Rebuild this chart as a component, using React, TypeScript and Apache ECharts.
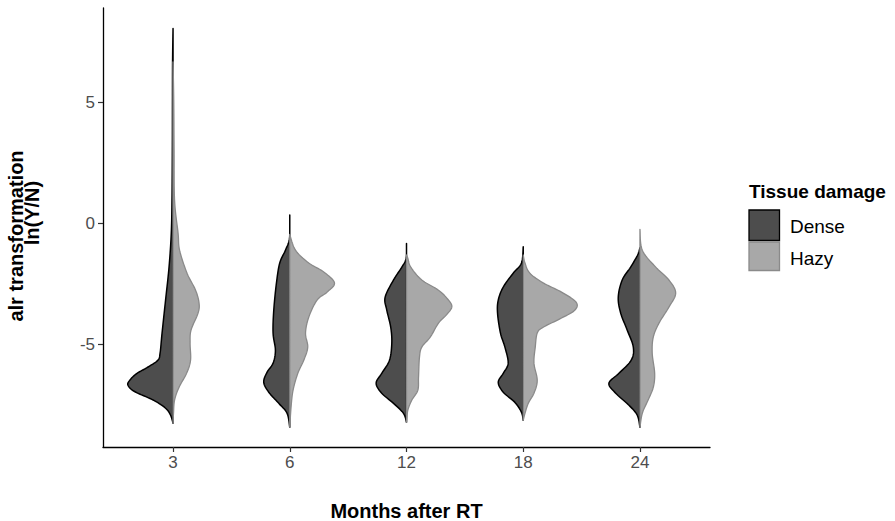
import React, { useEffect, useRef } from "react";
import * as echarts from "echarts";

const months = ["3", "6", "12", "18", "24"];
const yTicks = [-5, 0, 5];
const groups = ["Dense", "Hazy"];

// [y, half-width in category units], top to bottom
const dense3 = [[8.04, 0], [6.67, 0.004], [5.1, 0.005], [3.04, 0.006], [0.97, 0.009], [-0.39, 0.015], [-1.79, 0.034], [-3.16, 0.064], [-4.52, 0.094], [-5.35, 0.111], [-5.64, 0.13], [-5.92, 0.214], [-6.2, 0.314], [-6.47, 0.371], [-6.67, 0.386], [-6.93, 0.33], [-7.29, 0.167], [-7.62, 0.064], [-7.91, 0.021], [-8.24, 0]];
const dense6 = [[0.35, 0], [-0.6, 0.002], [-1.1, 0.037], [-1.63, 0.086], [-2.45, 0.114], [-3.57, 0.137], [-4.52, 0.143], [-5.23, 0.123], [-5.76, 0.143], [-6.14, 0.195], [-6.55, 0.223], [-6.96, 0.18], [-7.42, 0.094], [-7.83, 0.023], [-8.41, 0]];
const dense12 = [[-0.82, 0], [-1.43, 0.003], [-1.8, 0.04], [-2.33, 0.111], [-3.04, 0.183], [-3.57, 0.169], [-4.28, 0.135], [-4.94, 0.126], [-5.64, 0.146], [-6.18, 0.212], [-6.59, 0.26], [-7.0, 0.212], [-7.42, 0.111], [-7.83, 0.026], [-8.2, 0]];
const dense18 = [[-0.96, 0], [-1.63, 0.015], [-2.05, 0.086], [-2.62, 0.171], [-3.16, 0.214], [-3.7, 0.22], [-4.52, 0.195], [-5.1, 0.157], [-5.76, 0.129], [-6.18, 0.171], [-6.55, 0.214], [-6.96, 0.171], [-7.38, 0.071], [-7.79, 0.015], [-8.12, 0]];
const dense24 = [[-1.0, 0], [-1.3, 0.02], [-1.8, 0.08], [-2.33, 0.152], [-3.04, 0.186], [-3.7, 0.165], [-4.4, 0.109], [-5.1, 0.057], [-5.64, 0.075], [-6.18, 0.18], [-6.59, 0.266], [-7.0, 0.208], [-7.5, 0.094], [-7.91, 0.023], [-8.41, 0]];

const hazy3 = [[6.67, 0], [5.1, 0.006], [3.04, 0.009], [0.97, 0.013], [-0.39, 0.043], [-1.1, 0.056], [-2.05, 0.12], [-2.75, 0.193], [-3.29, 0.223], [-3.7, 0.214], [-4.4, 0.154], [-4.94, 0.146], [-5.64, 0.15], [-6.18, 0.116], [-6.76, 0.051], [-7.29, 0.013], [-7.83, 0.004], [-8.24, 0]];
const hazy6 = [[-0.45, 0], [-1.1, 0.049], [-1.63, 0.163], [-2.0, 0.291], [-2.45, 0.383], [-2.83, 0.32], [-3.16, 0.234], [-3.86, 0.163], [-4.52, 0.135], [-5.1, 0.154], [-5.64, 0.12], [-6.18, 0.069], [-6.88, 0.028], [-7.58, 0.011], [-8.41, 0]];
const hazy12 = [[-1.3, 0], [-1.43, 0.011], [-1.8, 0.037], [-2.33, 0.131], [-2.75, 0.274], [-3.16, 0.36], [-3.45, 0.388], [-3.78, 0.34], [-4.11, 0.274], [-4.69, 0.203], [-5.1, 0.131], [-5.52, 0.111], [-6.34, 0.103], [-6.88, 0.097], [-7.29, 0.045], [-7.71, 0.011], [-8.2, 0]];
const hazy18 = [[-1.3, 0], [-1.63, 0.015], [-2.05, 0.057], [-2.45, 0.171], [-2.83, 0.328], [-3.24, 0.452], [-3.57, 0.443], [-3.9, 0.328], [-4.28, 0.171], [-4.52, 0.12], [-5.1, 0.103], [-5.76, 0.092], [-6.47, 0.12], [-7.0, 0.092], [-7.42, 0.043], [-7.83, 0.015], [-8.12, 0]];
const hazy24 = [[-0.24, 0], [-1.1, 0.02], [-1.8, 0.135], [-2.33, 0.248], [-2.87, 0.306], [-3.45, 0.248], [-4.11, 0.163], [-4.69, 0.114], [-5.35, 0.105], [-6.18, 0.126], [-6.76, 0.114], [-7.29, 0.069], [-7.83, 0.02], [-8.41, 0]];

const denseProfiles = [dense3, dense6, dense12, dense18, dense24];
const hazyProfiles = [hazy3, hazy6, hazy12, hazy18, hazy24];

const FONT = '"Liberation Sans", Arial, Helvetica, sans-serif';
const DENSE_FILL = "#4d4d4d";
const DENSE_STROKE = "#000000";
const HAZY_FILL = "#a8a8a8";
const HAZY_STROKE = "#8a8a8a";

function catmull(pts: number[][], steps: number): number[][] {
  const out: number[][] = [];
  const n = pts.length;
  for (let i = 0; i < n - 1; i++) {
    const p0 = pts[Math.max(0, i - 1)];
    const p1 = pts[i];
    const p2 = pts[i + 1];
    const p3 = pts[Math.min(n - 1, i + 2)];
    for (let s = 0; s < steps; s++) {
      const t = s / steps;
      const t2 = t * t;
      const t3 = t2 * t;
      const f = (a: number, b: number, c: number, d: number) =>
        0.5 * (2 * b + (-a + c) * t + (2 * a - 5 * b + 4 * c - d) * t2 + (-a + 3 * b - 3 * c + d) * t3);
      out.push([f(p0[0], p1[0], p2[0], p3[0]), f(p0[1], p1[1], p2[1], p3[1])]);
    }
  }
  out.push(pts[n - 1]);
  return out;
}

function makeRender(profiles: number[][][], side: number, fill: string, stroke: string, lw: number) {
  return (params: any, api: any) => {
    const i = params.dataIndex;
    const xv = api.value(0);
    const prof = profiles[i];
    const edge = prof.map(([y, w]) => api.coord([xv + side * w, y]));
    const cTop = api.coord([xv, prof[0][0]]);
    const cBot = api.coord([xv, prof[prof.length - 1][0]]);
    const cx = cTop[0];
    const sm = catmull(edge, 10).map(([x, y]) => [side < 0 ? Math.min(x, cx) : Math.max(x, cx), y]);
    const pts = [...sm, cBot, cTop];
    return {
      type: "polygon",
      shape: { points: pts },
      style: { fill, stroke, lineWidth: lw, lineJoin: "round" },
    };
  };
}

function txt(text: string, x: number, y: number, font: string, align: string) {
  return {
    type: "text",
    x,
    y,
    style: {
      text,
      fill: "#000",
      font,
      align,
      textAlign: align,
      verticalAlign: "middle",
      textVerticalAlign: "middle",
    },
  };
}

export default function App() {
  const ref = useRef<HTMLDivElement>(null);
  useEffect(() => {
    if (!ref.current) return;
    const chart = echarts.init(ref.current, undefined, { renderer: "svg" });
    const catData = months.map((_, i) => [i + 1, 0]);
    chart.setOption({
      animation: false,
      backgroundColor: "#ffffff",
      grid: { left: 103, right: 185, top: 8, bottom: 74, containLabel: false, outerBoundsMode: "none" },
      xAxis: {
        type: "value",
        min: 0.4,
        max: 5.6,
        name: "Months after RT",
        nameLocation: "middle",
        nameGap: 54,
        nameTextStyle: { fontFamily: FONT, fontWeight: "bold", fontSize: 20, color: "#000" },
        axisLine: { show: true, onZero: false, lineStyle: { color: "#000", width: 1.3 } },
        axisTick: { show: true, customValues: [1, 2, 3, 4, 5], length: 5, lineStyle: { color: "#333", width: 1.2 } },
        axisLabel: {
          customValues: [1, 2, 3, 4, 5],
          formatter: (v: number) => months[Math.round(v) - 1] ?? "",
          fontFamily: FONT,
          fontSize: 17,
          color: "#4d4d4d",
          margin: 7,
        },
        splitLine: { show: false },
      },
      yAxis: {
        type: "value",
        min: -9.22,
        max: 8.89,
        axisLine: { show: true, onZero: false, lineStyle: { color: "#000", width: 1.3 } },
        axisTick: { show: true, customValues: yTicks, length: 5, lineStyle: { color: "#333", width: 1.2 } },
        axisLabel: {
          customValues: yTicks,
          fontFamily: FONT,
          fontSize: 17,
          color: "#4d4d4d",
          margin: 8,
        },
        splitLine: { show: false },
      },
      series: [
        {
          type: "custom",
          name: groups[0],
          renderItem: makeRender(denseProfiles, -1, DENSE_FILL, DENSE_STROKE, 1.5),
          data: catData,
          encode: { x: 0, y: 1 },
          z: 2,
        },
        {
          type: "custom",
          name: groups[1],
          renderItem: makeRender(hazyProfiles, 1, HAZY_FILL, HAZY_STROKE, 1.3),
          data: catData,
          encode: { x: 0, y: 1 },
          z: 3,
        },
      ],
      graphic: [
        {
          type: "text",
          x: 24,
          y: 236,
          rotation: Math.PI / 2,
          style: {
            text: "{a|alr transformation}\n{b|ln(Y/N)}",
            fill: "#000",
            font: `bold 20px ${FONT}`,
            align: "center",
            textAlign: "center",
            verticalAlign: "middle",
            textVerticalAlign: "middle",
            rich: {
              a: { fontFamily: FONT, fontWeight: "bold", fontSize: 20, lineHeight: 16, fill: "#000" },
              b: { fontFamily: FONT, fontWeight: "bold", fontSize: 20, lineHeight: 16, fill: "#000", padding: [0, 0, 0, 46] },
            },
          },
        },
        txt("Tissue damage", 749, 191, `bold 19px ${FONT}`, "left"),
        {
          type: "rect",
          shape: { x: 749, y: 210, width: 30.5, height: 30.5 },
          style: { fill: DENSE_FILL, stroke: DENSE_STROKE, lineWidth: 1.3 },
        },
        {
          type: "rect",
          shape: { x: 749, y: 242, width: 30.5, height: 28.5 },
          style: { fill: HAZY_FILL, stroke: HAZY_STROKE, lineWidth: 1.3 },
        },
        txt(groups[0], 790, 226, `19px ${FONT}`, "left"),
        txt(groups[1], 790, 258, `19px ${FONT}`, "left"),
      ],
    });
    return () => chart.dispose();
  }, []);
  return <div ref={ref} style={{ position: "fixed", left: 0, top: 0, width: 895, height: 521 }} />;
}
